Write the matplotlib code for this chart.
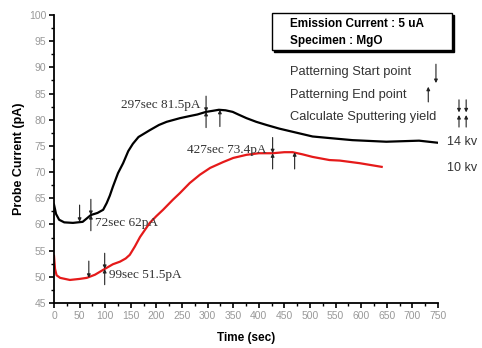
import numpy as np
import matplotlib
matplotlib.use('Agg')
import matplotlib.pyplot as plt
from matplotlib.ticker import MultipleLocator
from matplotlib.patches import Rectangle

plt.rcParams['font.family'] = ['Liberation Sans', 'DejaVu Sans']

##############################################################################
# Data
t_14kv = [0, 4, 10, 20, 37, 56, 72, 85, 96, 103, 109, 115, 125, 135, 145,
          154, 165, 187, 205, 220, 246, 265, 280, 297, 310, 322, 335, 349,
          360, 376, 395, 415, 440, 466, 505, 538, 583, 649, 713, 750]
i_14kv = [63.8, 62.0, 60.9, 60.4, 60.3, 60.5, 61.8, 62.2, 62.8, 64.1, 65.5,
          67.2, 69.8, 71.7, 74.0, 75.4, 76.7, 78.0, 79.0, 79.6, 80.3, 80.7,
          81.0, 81.5, 81.7, 81.9, 81.8, 81.5, 81.0, 80.3, 79.6, 79.0, 78.3,
          77.7, 76.8, 76.5, 76.1, 75.8, 76.0, 75.6]

t_10kv = [0, 2, 5, 12, 31, 50, 64, 80, 99, 115, 129, 140, 148, 158, 168,
          187, 200, 213, 232, 246, 265, 285, 305, 330, 350, 376, 400, 427,
          450, 466, 485, 505, 538, 558, 597, 640]
i_10kv = [54.0, 51.5, 50.3, 49.8, 49.4, 49.6, 49.8, 50.4, 51.5, 52.4, 52.9,
          53.5, 54.2, 55.8, 57.6, 60.3, 61.6, 62.8, 64.7, 66.0, 67.9, 69.5,
          70.8, 71.9, 72.7, 73.3, 73.6, 73.6, 73.8, 73.8, 73.4, 72.9, 72.3,
          72.2, 71.7, 71.0]

# arrow markers: (time, current)
start_pts = [(50, 60.5), (68, 49.8)]
end_pts = [(324, 81.9), (470, 73.8)]
calc_pts = [(72, 61.8), (297, 81.5), (99, 51.5), (427, 73.6)]
calc_labels = ['72sec 62pA', '297sec 81.5pA', '99sec 51.5pA', '427sec 73.4pA']

##############################################################################
fig = plt.figure(figsize=(4.82, 3.48), dpi=100)
ax = fig.add_axes([54/482, 45/348, 384/482, 288/348])

ax.plot(t_14kv, i_14kv, color='black', lw=1.6)
ax.plot(t_10kv, i_10kv, color='#e51a1a', lw=1.6)

ax.set_xlim(0, 750)
ax.set_ylim(45, 100)
ax.xaxis.set_major_locator(MultipleLocator(50))
ax.xaxis.set_minor_locator(MultipleLocator(25))
ax.yaxis.set_major_locator(MultipleLocator(5))
ax.yaxis.set_minor_locator(MultipleLocator(2.5))
for s in ['top', 'right']:
    ax.spines[s].set_visible(False)
for s in ['left', 'bottom']:
    ax.spines[s].set_linewidth(1.3)
ax.tick_params(which='major', direction='out', length=3.5, width=1.2,
               labelsize=7.5, labelcolor='#999999', pad=2)
ax.tick_params(which='minor', direction='out', length=2, width=1.0)

ax.set_xlabel('Time (sec)', fontsize=8.5, fontweight='bold', labelpad=8)
ax.set_ylabel('Probe Current (pA)', fontsize=9, fontweight='bold', labelpad=3)


def arrow(x, y0, y1):
    ax.annotate('', xy=(x, y1), xytext=(x, y0), annotation_clip=False,
                arrowprops=dict(arrowstyle='-|>', lw=0.8, color='#222222',
                                mutation_scale=5, shrinkA=0, shrinkB=0))


for x, y in start_pts:
    arrow(x, y + 3.2, y)
for x, y in end_pts:
    arrow(x, y - 3.2, y)
for x, y in calc_pts:
    arrow(x, y + 3.0, y)
    arrow(x, y - 3.0, y)

# value labels: (x, y, alignment)
lab_pos = [(80, 60.3, 'left'), (287, 82.8, 'right'),
           (108, 50.4, 'left'), (415, 74.2, 'right')]
for (x, y, ha), txt in zip(lab_pos, calc_labels):
    ax.text(x, y, txt, fontsize=9.5, family='Liberation Serif',
            color='#333333', ha=ha, va='center')

# legend of arrow meanings
leg_txt = ['Patterning Start point', 'Patterning End point',
           'Calculate Sputtering yield']
leg_y = [89.1, 84.7, 80.5]
for txt, y in zip(leg_txt, leg_y):
    ax.text(460, y, txt, fontsize=9.3, color='#333333', va='center',
            clip_on=False)
arrow(746, 90.6, 87.0)
arrow(731, 83.4, 86.3)
for x in [791, 805]:
    arrow(x, 83.8, 81.4)
    arrow(x, 78.6, 80.9)

ax.text(768, 75.8, '14 kv', fontsize=9, color='#333333', va='center',
        clip_on=False)
ax.text(768, 70.8, '10 kv', fontsize=9, color='#333333', va='center',
        clip_on=False)

# boxed info
fig.patches.append(Rectangle((274/482, 296/348), 180/482, 37/348,
                             transform=fig.transFigure, facecolor='black',
                             edgecolor='black', zorder=5))
fig.patches.append(Rectangle((272/482, 298/348), 180/482, 37/348,
                             transform=fig.transFigure, facecolor='white',
                             edgecolor='black', lw=1.0, zorder=6))
fig.text(290/482, 1 - 24/348, 'Emission Current : 5 uA', fontsize=8.5,
         fontweight='bold', va='center', zorder=7)
fig.text(290/482, 1 - 41/348, 'Specimen : MgO', fontsize=8.5,
         fontweight='bold', va='center', zorder=7)

fig.savefig('out.png', dpi=100)
